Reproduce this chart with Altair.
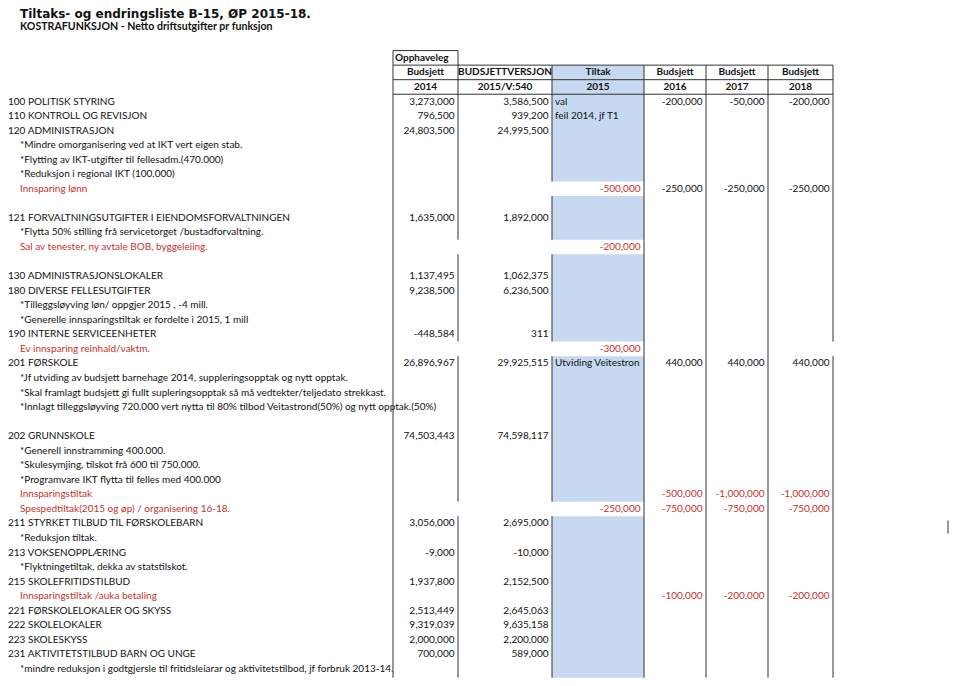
import altair as alt
import pandas as pd

# ---------------- data ----------------
title_text = "Tiltaks- og endringsliste B-15, ØP 2015-18."
subtitle_text = "KOSTRAFUNKSJON - Netto driftsutgifter pr funksjon"

header_top = ["Opphaveleg", "", "", "", "", ""]
header_mid = ["Budsjett", "BUDSJETTVERSJON", "Tiltak", "Budsjett", "Budsjett", "Budsjett"]
header_bot = ["2014", "2015/V:540", "2015", "2016", "2017", "2018"]

row_labels = [
    "100 POLITISK STYRING",
    "110 KONTROLL OG REVISJON",
    "120 ADMINISTRASJON",
    "*Mindre omorganisering ved at IKT vert eigen stab.",
    "*Flytting av IKT-utgifter til fellesadm.(470.000)",
    "*Reduksjon i regional IKT (100.000)",
    "Innsparing lønn",
    "",
    "121 FORVALTNINGSUTGIFTER I EIENDOMSFORVALTNINGEN",
    "*Flytta 50% stilling frå servicetorget /bustadforvaltning.",
    "Sal av tenester, ny avtale BOB, byggeleiing.",
    "",
    "130 ADMINISTRASJONSLOKALER",
    "180 DIVERSE FELLESUTGIFTER",
    "*Tilleggsløyving løn/ oppgjer 2015 , -4 mill.",
    "*Generelle innsparingstiltak er fordelte i 2015,  1 mill",
    "190 INTERNE SERVICEENHETER",
    "Ev innsparing reinhald/vaktm.",
    "201 FØRSKOLE",
    "*Jf utviding av budsjett barnehage 2014, suppleringsopptak og nytt opptak.",
    "*Skal framlagt budsjett gi fullt supleringsopptak så må vedtekter/teljedato strekkast.",
    "*Innlagt tilleggsløyving 720.000 vert nytta til 80% tilbod Veitastrond(50%) og nytt opptak.(50%)",
    "",
    "202 GRUNNSKOLE",
    "*Generell innstramming 400.000.",
    "*Skulesymjing, tilskot frå 600 til 750.000.",
    "*Programvare IKT flytta til felles med 400.000",
    "Innsparingstiltak",
    "Spespedtiltak(2015 og øp) / organisering 16-18.",
    "211 STYRKET TILBUD TIL FØRSKOLEBARN",
    "*Reduksjon tiltak.",
    "213 VOKSENOPPLÆRING",
    "*Flyktningetiltak, dekka av statstilskot.",
    "215 SKOLEFRITIDSTILBUD",
    "Innsparingstiltak /auka betaling",
    "221 FØRSKOLELOKALER OG SKYSS",
    "222 SKOLELOKALER",
    "223 SKOLESKYSS",
    "231 AKTIVITETSTILBUD BARN OG UNGE",
    "*mindre reduksjon i godtgjersle til fritidsleiarar og aktivitetstilbod, jf forbruk 2013-14.",
]
red_rows = [6, 10, 17, 27, 28, 34]

budsjett_2014 = {0: 3273000, 1: 796500, 2: 24803500, 8: 1635000, 12: 1137495, 13: 9238500,
                 16: -448584, 18: 26896967, 23: 74503443, 29: 3056000, 31: -9000, 33: 1937800,
                 35: 2513449, 36: 9319039, 37: 2000000, 38: 700000}
versjon_2015 = {0: 3586500, 1: 939200, 2: 24995500, 8: 1892000, 12: 1062375, 13: 6236500,
                16: 311, 18: 29925515, 23: 74598117, 29: 2695000, 31: -10000, 33: 2152500,
                35: 2645063, 36: 9635158, 37: 2200000, 38: 589000}
tiltak_2015 = {0: "val", 1: "feil 2014, jf T1", 6: -500000, 10: -200000, 17: -300000,
               18: "Utviding Veitestrond", 28: -250000}
budsjett_2016 = {0: -200000, 6: -250000, 18: 440000, 27: -500000, 28: -750000, 34: -100000}
budsjett_2017 = {0: -50000, 6: -250000, 18: 440000, 27: -1000000, 28: -750000, 34: -200000}
budsjett_2018 = {0: -200000, 6: -250000, 18: 440000, 27: -1000000, 28: -750000, 34: -200000}
plan_red_rows = [27, 28, 34]

# ---------------- layout (pixels / row units) ----------------
W, H = 943, 670
ROW_H = 14.55
ROW0 = 93.5
LAST = 39.6
COL_BOUNDS = [385, 450, 544, 636, 698, 760, 825]
FONT = "Lato"
FS = 10
BLACK = "#111111"
RED = "#c9302c"
BLUE = "#c6d9f1"
LINE = "#333333"

x_scale = alt.Scale(domain=[0, W], range=[0, W], nice=False, zero=False)
y_scale = alt.Scale(domain=[-ROW0 / ROW_H, (H - ROW0) / ROW_H], range=[0, H], nice=False, zero=False)


def fmt(v):
    return f"{v:,}"


def segs(start, end, gaps):
    out, s = [], start
    for g in sorted(gaps):
        out.append((s, g - 0.5))
        s = g + 0.5
    out.append((s, end))
    return out


white_tiltak_rows = [r for r, v in tiltak_2015.items() if not isinstance(v, str)]

# blue fill of the Tiltak column
blue = pd.DataFrame([{"x0": COL_BOUNDS[2], "x1": COL_BOUNDS[3], "r0": a, "r1": b}
                     for a, b in segs(-2.5, LAST, white_tiltak_rows)])

# vertical borders
vline_gaps = {0: [], 1: [10, 17, 28], 2: white_tiltak_rows, 3: [], 4: [], 5: [], 6: [17]}
vrows = []
for i, xb in enumerate(COL_BOUNDS):
    start = -3.5 if i <= 1 else -2.5
    for a, b in segs(start, LAST, vline_gaps[i]):
        vrows.append({"x": xb, "r0": a, "r1": b})
vrows.append({"x": 940, "r0": 28.8, "r1": 29.7})
vlines = pd.DataFrame(vrows)

hlines = pd.DataFrame([
    {"x0": COL_BOUNDS[0], "x1": COL_BOUNDS[1], "r": -3.5},
    {"x0": COL_BOUNDS[0], "x1": COL_BOUNDS[-1], "r": -2.5},
    {"x0": COL_BOUNDS[0], "x1": COL_BOUNDS[-1], "r": -1.5},
    {"x0": COL_BOUNDS[0], "x1": COL_BOUNDS[-1], "r": -0.5},
])

# header texts
hrows = []
for j in range(6):
    cx = (COL_BOUNDS[j] + COL_BOUNDS[j + 1]) / 2
    if header_top[j]:
        hrows.append({"x": COL_BOUNDS[j] + 2, "r": -3, "t": header_top[j], "al": "left"})
    hrows.append({"x": cx, "r": -2, "t": header_mid[j], "al": "center"})
    hrows.append({"x": cx, "r": -1, "t": header_bot[j], "al": "center"})
hdf = pd.DataFrame(hrows)

# row labels
lrows = []
for r, t in enumerate(row_labels):
    if not t:
        continue
    indent = 0 if t[:3].isdigit() else 12
    lrows.append({"x": indent, "r": r, "t": t, "c": RED if r in red_rows else BLACK})
ldf = pd.DataFrame(lrows)

# numeric cells (right aligned) and text cells (left aligned)
cols = [budsjett_2014, versjon_2015, tiltak_2015, budsjett_2016, budsjett_2017, budsjett_2018]
nrows, trows = [], []
for j, col in enumerate(cols):
    for r, v in col.items():
        if isinstance(v, str):
            trows.append({"x": COL_BOUNDS[j] + 3, "r": r, "t": v, "c": BLACK})
        else:
            red = (j == 2) or (j >= 3 and r in plan_red_rows)
            nrows.append({"x": COL_BOUNDS[j + 1] - 3.5, "r": r, "t": fmt(v), "c": RED if red else BLACK})
ndf = pd.DataFrame(nrows)
tdf = pd.DataFrame(trows)

X = lambda f: alt.X(f, scale=x_scale, axis=None)
Y = lambda f: alt.Y(f, scale=y_scale, axis=None)

blue_layer = alt.Chart(blue).mark_rect(color=BLUE).encode(
    x=X("x0:Q"), x2="x1:Q", y=Y("r0:Q"), y2="r1:Q")
vline_layer = alt.Chart(vlines).mark_rule(color=LINE, strokeWidth=1).encode(
    x=X("x:Q"), y=Y("r0:Q"), y2="r1:Q")
hline_layer = alt.Chart(hlines).mark_rule(color=LINE, strokeWidth=1).encode(
    x=X("x0:Q"), x2="x1:Q", y=Y("r:Q"))

head_left = alt.Chart(hdf[hdf.al == "left"]).mark_text(
    align="left", baseline="middle", font=FONT, fontSize=FS, fontWeight="bold", color=BLACK
).encode(x=X("x:Q"), y=Y("r:Q"), text="t:N")
head_center = alt.Chart(hdf[hdf.al == "center"]).mark_text(
    align="center", baseline="middle", font=FONT, fontSize=FS, fontWeight="bold", color=BLACK
).encode(x=X("x:Q"), y=Y("r:Q"), text="t:N")

label_layer = alt.Chart(ldf).mark_text(
    align="left", baseline="middle", font=FONT, fontSize=FS
).encode(x=X("x:Q"), y=Y("r:Q"), text="t:N", color=alt.Color("c:N", scale=None))

num_layer = alt.Chart(ndf).mark_text(
    align="right", baseline="middle", font=FONT, fontSize=FS
).encode(x=X("x:Q"), y=Y("r:Q"), text="t:N", color=alt.Color("c:N", scale=None))

txt_layer = alt.Chart(tdf).mark_text(
    align="left", baseline="middle", font=FONT, fontSize=FS, limit=89, ellipsis="\u200b"
).encode(x=X("x:Q"), y=Y("r:Q"), text="t:N", color=alt.Color("c:N", scale=None))

title_layer = alt.Chart(pd.DataFrame({"t": [title_text]})).mark_text(
    align="left", baseline="top", font="DejaVu Sans", fontSize=12, fontWeight="bold", color=BLACK
).encode(x=alt.value(12), y=alt.value(1), text="t:N")
subtitle_layer = alt.Chart(pd.DataFrame({"t": [subtitle_text]})).mark_text(
    align="left", baseline="middle", font=FONT, fontSize=10.6, fontWeight="bold", color=BLACK
).encode(x=alt.value(12), y=alt.value(19), text="t:N")

chart = alt.layer(
    blue_layer, label_layer, num_layer, txt_layer, head_left, head_center,
    vline_layer, hline_layer, title_layer, subtitle_layer
).properties(
    width=W, height=H, autosize="none", padding=0
).configure_view(stroke=None)

chart.save("out.html", embed_options={"renderer": "svg", "actions": False})
